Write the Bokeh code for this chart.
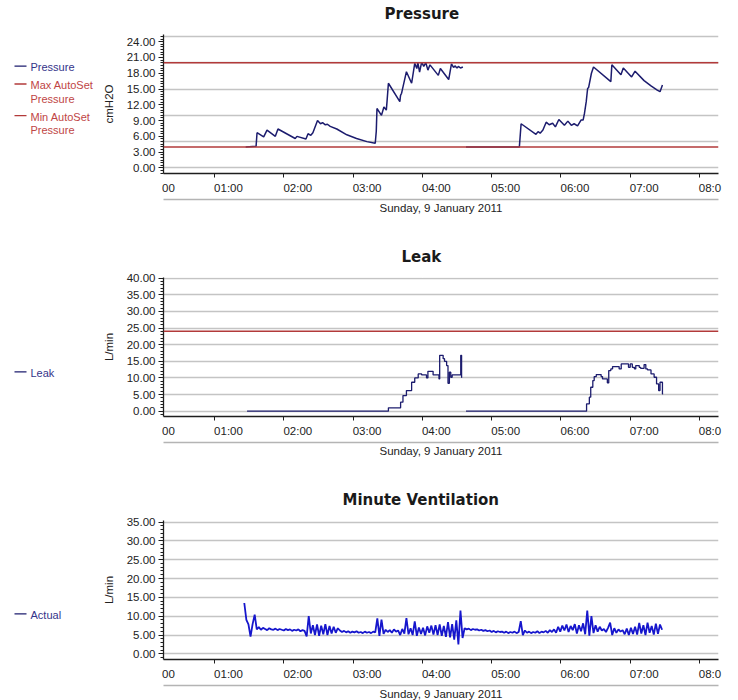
from bokeh.plotting import figure
from bokeh.models import Range1d, FixedTicker, LinearAxis, Span, PrintfTickFormatter, Title
from bokeh.layouts import column, row
from bokeh.core.properties import value
from bokeh.embed import file_html
from bokeh.resources import INLINE

# ---------------- data (time in hours after midnight) ----------------
DATE_LABEL = "Sunday, 9 January 2011"
hour_ticks = [1, 2, 3, 4, 5, 6, 7, 8]
hour_labels = ["01:00", "02:00", "03:00", "04:00", "05:00", "06:00", "07:00", "08:0"]
left_clipped_label = "00"

# Pressure (cmH2O), session 1 and session 2
pres1_t = [1.45, 1.60, 1.614, 1.71, 1.758, 1.878, 1.916, 2.165, 2.19, 2.32, 2.35, 2.39, 2.42,
           2.487, 2.53, 2.56, 2.60, 2.63, 2.67, 2.765, 2.91, 3.05, 3.20, 3.32, 3.335, 3.345,
           3.41, 3.445, 3.48, 3.49, 3.51, 3.675, 3.685, 3.70, 3.71, 3.77, 3.845, 3.89, 3.92,
           3.935, 3.96, 3.99, 4.02, 4.05, 4.08, 4.11, 4.23, 4.26, 4.38, 4.42, 4.45, 4.47,
           4.50, 4.52, 4.55, 4.585]
pres1_v = [4.0, 4.1, 6.7, 5.9, 7.2, 6.0, 7.4, 5.6, 6.0, 5.5, 6.5, 6.2, 6.7,
           9.0, 8.4, 8.6, 8.2, 8.3, 7.9, 7.4, 6.3, 5.6, 5.0, 4.7, 7.0, 11.3,
           10.0, 11.6, 11.0, 12.6, 16.1, 12.6, 13.8, 14.2, 14.8, 18.3, 16.1, 19.9, 18.9,
           20.0, 18.2, 20.1, 19.3, 20.0, 18.6, 19.6, 17.6, 18.9, 16.8, 19.8, 19.1, 19.4,
           19.0, 19.3, 19.0, 19.2]
pres2_t = [4.63, 5.40, 5.425, 5.64, 5.67, 5.70, 5.74, 5.787, 5.83, 5.88, 5.92, 5.97, 6.05,
           6.10, 6.15, 6.19, 6.24, 6.29, 6.32, 6.34, 6.365, 6.385, 6.40, 6.44, 6.47, 6.72,
           6.735, 6.866, 6.90, 7.02, 7.07, 7.20, 7.30, 7.39, 7.43, 7.465]
pres2_v = [4.0, 4.0, 8.4, 6.4, 6.9, 6.6, 7.2, 8.7, 8.2, 8.5, 7.8, 9.2, 8.1,
           8.9, 8.1, 8.4, 8.0, 9.1, 9.1, 10.4, 12.6, 15.1, 15.3, 18.0, 19.2, 16.4,
           19.6, 17.7, 19.0, 17.3, 18.4, 16.6, 15.6, 14.8, 14.5, 15.75]
max_autoset = 20.0
min_autoset = 4.0

# Leak (L/min), stepped
leak1_t = [1.47, 3.51, 3.686, 3.72, 3.77, 3.845, 3.89, 3.94, 3.99, 4.06, 4.08, 4.155, 4.24,
           4.25, 4.30, 4.32, 4.35, 4.37, 4.39, 4.41, 4.43, 4.554, 4.566, 4.575]
leak1_v = [0.0, 1.0, 2.7, 4.7, 6.2, 8.7, 10.0, 11.2, 10.9, 10.0, 12.0, 10.9, 9.7,
           16.8, 15.8, 15.0, 13.7, 8.4, 11.7, 10.2, 10.9, 16.8, 10.2, 10.2]
leak2_t = [4.63, 6.37, 6.41, 6.43, 6.46, 6.48, 6.51, 6.58, 6.60, 6.67, 6.69, 6.72, 6.745,
           6.84, 6.87, 6.975, 7.0, 7.03, 7.06, 7.08, 7.13, 7.15, 7.2, 7.225, 7.25, 7.30,
           7.345, 7.38, 7.41, 7.43, 7.465, 7.475]
leak2_v = [0.0, 2.2, 4.2, 7.2, 9.2, 10.4, 11.0, 10.4, 9.7, 8.5, 12.2, 12.7, 13.4,
           12.7, 14.2, 13.2, 14.2, 13.2, 12.7, 13.7, 13.2, 12.9, 14.0, 12.7, 12.4, 11.2,
           10.2, 8.2, 6.2, 8.7, 5.2, 5.2]
leak_threshold = 24.0

# Minute ventilation (L/min), sampled every 0.03 h from 01:25.8
mv_start = 1.43
mv_step = 0.03
mv_values = [
    13.5, 9.0, 7.8, 4.6, 7.9, 10.4,
    6.5, 7.1, 6.4, 6.9, 6.6, 6.3, 6.8, 6.5, 6.4, 6.7, 6.3, 6.6, 6.4, 6.2, 6.6, 6.3, 6.5,
    6.1, 6.4, 6.2, 6.5, 6.0, 6.3, 6.1, 4.6,
    10.0, 5.4, 7.6, 5.0, 7.8, 4.8, 7.5, 5.2, 7.9, 5.0, 7.4, 5.4, 7.2, 5.6, 6.8,
    6.2, 5.8, 6.1, 5.7, 6.0, 5.6, 5.9, 5.7, 6.0, 5.6, 5.8, 5.5, 5.9, 5.6, 5.8, 5.5, 5.9, 5.7,
    9.4, 4.8, 9.1, 5.3, 6.4, 5.8, 6.3, 5.6, 6.5, 5.9, 6.2, 5.0, 6.6, 5.4, 9.5, 5.2, 6.8, 5.0,
    8.6, 4.8, 7.0, 5.3, 6.9, 4.9, 7.3, 5.6, 7.5, 5.1, 7.6, 5.0, 7.8, 4.8, 7.4, 4.5, 8.4, 4.4, 7.9,
    3.8, 8.9, 2.5, 11.5, 4.2,
    6.8, 6.5, 6.7, 6.3, 6.6, 6.4, 6.5, 6.2, 6.4, 6.1, 6.3, 6.0, 6.2, 5.8, 6.1, 5.7, 6.0, 5.8,
    5.9, 5.6, 5.9, 5.5, 5.8, 5.6, 5.9, 5.5, 5.8,
    8.7, 5.0, 6.2, 5.6, 5.9, 5.5, 5.8, 5.6, 6.0, 5.5, 5.9, 5.7, 6.1, 5.6, 6.3, 5.8, 6.5,
    5.6, 7.2, 5.9, 7.5, 6.2, 7.8, 5.8, 7.4, 6.3, 7.9, 5.4, 7.6, 6.0, 8.1, 5.2, 11.5, 4.8, 10.0,
    5.5, 7.6, 5.9, 7.2, 6.2,
    6.6, 5.8, 6.9, 8.3, 5.0, 6.8, 5.6, 6.5, 5.9, 6.3, 5.2, 6.7, 5.0, 6.9, 5.3, 7.2, 5.1, 8.2,
    5.4, 7.6, 5.0, 8.3, 5.6, 7.4, 5.1, 8.0, 5.3, 7.8, 6.4,
]
mv_t = [mv_start + mv_step * i for i in range(len(mv_values))]

# ---------------- styling ----------------
FONT = "Liberation Sans"
TITLE_FONT = "DejaVu Sans"
NAVY = "#1c1c6e"
NAVY_TXT = "#34348a"
RED = "#b23a3a"
RED_TXT = "#c04545"
BLUE = "#1616cc"
GRID = "#c4c4c4"
AXIS = "#1e1e1e"
X0, X1 = 0.264, 8.274
FRAME_W, FRAME_H = 555, 139
LEG_W = 98
TOP = 34
SPACER_TICK = 4.0  # a hidden tick inside the x range, only used to reserve panel space


def spacer_axis(size):
    # an axis drawn in white whose only role is to reserve `size` pixels in a side panel
    return LinearAxis(ticker=FixedTicker(ticks=[SPACER_TICK], minor_ticks=[]),
                      major_label_overrides={SPACER_TICK: ""},
                      axis_line_color=None,
                      major_tick_out=size, major_tick_in=0, minor_tick_out=0, minor_tick_in=0,
                      major_tick_line_color="white", minor_tick_line_color=None,
                      major_label_standoff=0, major_label_text_font_size="1px",
                      major_label_text_color="white")


def main_fig(title, title_offset, yr, yticks, yminor, ygrid, ylabel, bottom):
    p = figure(frame_width=FRAME_W, frame_height=FRAME_H,
               x_range=Range1d(X0, X1), y_range=Range1d(*yr),
               output_backend="svg", toolbar_location=None, x_axis_location=None,
               min_border_left=65, min_border_right=14, min_border_top=TOP,
               min_border_bottom=bottom)
    p.outline_line_color = None
    p.background_fill_color = "white"
    p.border_fill_color = "white"

    # spacer between frame and title, then the title itself
    p.add_layout(spacer_axis(12), "above")
    t = Title(text=title, align="left", offset=title_offset, standoff=0,
              text_font=TITLE_FONT, text_font_size="15px", text_font_style="bold",
              text_color="#1a1a1a")
    p.add_layout(t, "above")

    for g in p.xgrid:
        g.visible = False
    yg = p.ygrid[0]
    yg.ticker = FixedTicker(ticks=ygrid)
    yg.grid_line_color = GRID
    yg.grid_line_width = 1.5

    ya = p.yaxis[0]
    ya.ticker = FixedTicker(ticks=yticks, minor_ticks=yminor)
    ya.formatter = PrintfTickFormatter(format="%.2f")
    ya.major_tick_in = 0
    ya.major_tick_out = 5
    ya.minor_tick_in = 0
    ya.minor_tick_out = 3
    ya.axis_line_color = AXIS
    ya.axis_line_width = 1.3
    ya.major_tick_line_color = AXIS
    ya.minor_tick_line_color = AXIS
    ya.major_label_text_font = FONT
    ya.major_label_text_font_size = "11.5px"
    ya.major_label_text_color = "#222222"
    ya.major_label_standoff = 3
    ya.axis_label = ylabel
    ya.axis_label_text_font = FONT
    ya.axis_label_text_font_size = "11.5px"
    ya.axis_label_text_font_style = "normal"
    ya.axis_label_text_color = "#222222"
    ya.axis_label_standoff = 9

    # x axis: tick marks
    ax_ticks = LinearAxis(ticker=FixedTicker(ticks=hour_ticks, minor_ticks=[]),
                          major_tick_in=0, major_tick_out=4, minor_tick_out=0, minor_tick_in=0,
                          axis_line_color=AXIS, axis_line_width=1.3,
                          major_tick_line_color=AXIS, major_label_text_alpha=0,
                          major_label_text_font_size="1px", major_label_standoff=0)
    # x axis: labels (left-aligned at their hour tick, as in the original)
    px_per_h = FRAME_W / (X1 - X0)
    half = 14.0 / px_per_h
    lab_pos = [round(h + half, 4) for h in hour_ticks]
    lab_pos[-1] = round(hour_ticks[-1] + half * 0.75, 4)
    left_pos = round(X0 + 5.0 / px_per_h, 4)
    overrides = {pos: lab for pos, lab in zip(lab_pos, hour_labels)}
    overrides[left_pos] = left_clipped_label
    ax_labels = LinearAxis(ticker=FixedTicker(ticks=[left_pos] + lab_pos, minor_ticks=[]),
                           major_label_overrides=overrides,
                           major_tick_in=0, major_tick_out=0, minor_tick_in=0, minor_tick_out=0,
                           axis_line_color=None, major_tick_line_color=None,
                           minor_tick_line_color=None,
                           major_label_text_font=FONT, major_label_text_font_size="11.5px",
                           major_label_text_color="#222222", major_label_standoff=4)
    ax_date = LinearAxis(ticker=FixedTicker(ticks=[], minor_ticks=[]),
                         major_tick_in=0, major_tick_out=0, minor_tick_in=0, minor_tick_out=0,
                         axis_line_color="#b4b4b4", axis_line_width=1.5,
                         axis_label=DATE_LABEL, axis_label_text_font=FONT,
                         axis_label_text_font_size="11.5px", axis_label_text_font_style="normal",
                         axis_label_text_color="#222222", axis_label_standoff=2,
                         major_label_text_font_size="1px", major_label_standoff=0)
    p.add_layout(ax_ticks, "below")
    p.add_layout(ax_labels, "below")
    p.add_layout(spacer_axis(3), "below")
    p.add_layout(ax_date, "below")
    return p


def legend_fig(items, first_center):
    # coordinates: pixels from the top of the (aligned) plot frame
    lf = figure(frame_width=LEG_W, frame_height=FRAME_H, x_range=Range1d(0, LEG_W),
                y_range=Range1d(FRAME_H, 0), output_backend="svg", toolbar_location=None,
                x_axis_location=None, y_axis_location=None, min_border=0)
    lf.outline_line_color = None
    lf.grid.visible = False
    lf.background_fill_color = "white"
    lf.border_fill_color = "white"
    line_h = 13.8
    y = first_center
    for label, lc, tc in items:
        lines = label.split("\n")
        lf.segment(x0=[14], y0=[y - 1], x1=[26], y1=[y - 1], line_color=lc, line_width=1.3)
        for k, ln in enumerate(lines):
            lf.text(x=[30], y=[y + k * line_h], text=[ln], text_font=value(FONT),
                    text_font_size="11px", text_color=tc, text_baseline="middle",
                    text_align="left")
        y += len(lines) * line_h + 4
    return lf


yminor_p = [i * 0.5 for i in range(-2, 51)]
p1 = main_fig("Pressure", 221, (-1.06, 25.37), [0, 3, 6, 9, 12, 15, 18, 21, 24], yminor_p,
              [0, 5, 10, 15, 20, 25], "cmH2O", 70)
p1.line(pres1_t, pres1_v, line_color=NAVY, line_width=1.5)
p1.line(pres2_t, pres2_v, line_color=NAVY, line_width=1.5)
p1.add_layout(Span(location=max_autoset, dimension="width", line_color=RED, line_width=1.5))
p1.add_layout(Span(location=min_autoset, dimension="width", line_color=RED, line_width=1.5))

yminor_l = list(range(-1, 41))
p2 = main_fig("Leak", 238, (-1.6, 40.2), list(range(0, 41, 5)), yminor_l,
              list(range(0, 41, 5)), "L/min", 70)
p2.step(leak1_t, leak1_v, mode="after", line_color=NAVY, line_width=1.3)
p2.step(leak2_t, leak2_v, mode="after", line_color=NAVY, line_width=1.3)
p2.add_layout(Span(location=leak_threshold, dimension="width", line_color=RED, line_width=1.5))

yminor_m = list(range(-1, 36))
p3 = main_fig("Minute Ventilation", 179, (-1.5, 35.4), list(range(0, 36, 5)), yminor_m,
              list(range(0, 36, 5)), "L/min", 41)
p3.line(mv_t, mv_values, line_color=BLUE, line_width=1.8)

l1 = legend_fig([("Pressure", NAVY, NAVY_TXT),
                 ("Max AutoSet\nPressure", RED, RED_TXT),
                 ("Min AutoSet\nPressure", RED, RED_TXT)], 32.7)
l2 = legend_fig([("Leak", NAVY, NAVY_TXT)], 95.3)
l3 = legend_fig([("Actual", NAVY, NAVY_TXT)], 94.3)

layout = column(row(l1, p1), row(l2, p2), row(l3, p3))
open("out.html", "w").write(file_html(layout, INLINE))
